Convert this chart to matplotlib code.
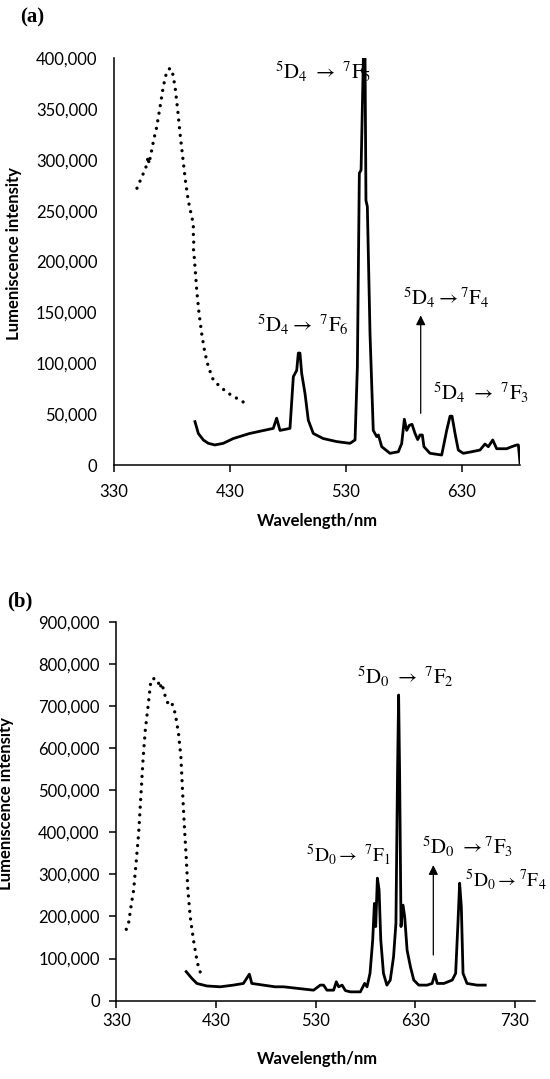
import matplotlib
matplotlib.use("Agg")
import matplotlib.pyplot as plt
from matplotlib.ticker import FuncFormatter

# ---------------- data ----------------
# Panel (a): Tb complex
exc_a_x = [349.8, 353.9, 357.3, 359.5, 360.2, 361.0, 364.5, 366.8, 369.7, 372.5, 375.4, 378.3,
           380.3, 382.6, 384.9, 386.9, 389.2, 391.5, 394.0, 397.0, 398.2, 398.6, 398.3, 398.8,
           398.5, 399.0, 399.8, 401.3, 403.3, 405.6, 408.4, 411.3, 415.6, 421.4, 428.5, 435.8, 445.8]
exc_a_y = [272000, 283000, 291600, 303000, 296000, 301000, 321000, 332000, 352000, 372000, 386500, 390000,
           386500, 372000, 349000, 326000, 303000, 280000, 260000, 244000, 238000, 230000, 224000, 218000,
           212000, 207000, 195000, 172000, 149000, 129000, 110000, 96600, 83500, 77000, 70500, 65600, 59000]

em_a_x = [399.8, 402.7, 407.0, 411.3, 417.0, 424.2, 432.8, 447.0, 467.3, 470.2, 473.1, 481.7,
          484.6, 487.5, 488.9, 490.3, 491.8, 494.7, 497.5, 501.8, 510.4, 522.0, 533.4, 537.8,
          539.8, 541.5, 543.0, 545.0, 546.4, 547.2, 548.4, 550.7, 553.5, 556.4, 557.9, 560.8,
          567.9, 575.1, 578.0, 580.3, 582.3, 584.6, 586.9, 589.5, 591.8, 593.8, 595.8, 597.2,
          602.4, 612.5, 616.8, 619.7, 621.4, 624.0, 626.8, 631.1, 638.3, 645.5, 649.8, 652.7,
          656.5, 659.9, 668.5, 672.8, 677.2, 678.6, 680.0]
em_a_y = [42600, 31000, 24600, 21300, 19700, 21300, 26000, 31000, 36000, 46000, 34000, 36000,
          86800, 93000, 110000, 110000, 90000, 70000, 44000, 31000, 26000, 23000, 21300, 24600,
          96600, 286700, 290000, 402000, 402000, 260000, 254000, 129000, 34000, 28000, 29500, 18000,
          11500, 13000, 21000, 45000, 34000, 39000, 40000, 31000, 25000, 29500, 29500, 18000,
          11500, 9800, 34000, 48000, 48000, 31000, 14700, 11500, 13000, 14700, 20600, 18000,
          24600, 16000, 16000, 18000, 19700, 19700, 2000]

# Panel (b): Eu complex
exc_b_x = [340.0, 342.3, 344.7, 347.4, 350.1, 352.4, 354.8, 356.8, 359.1, 361.8, 364.8, 369.1,
           372.4, 373.5, 375.8, 378.1, 382.4, 385.8, 389.1, 392.4, 394.8, 396.4, 398.1, 400.1,
           401.8, 404.1, 407.4, 410.8, 413.1, 415.8]
exc_b_y = [169500, 184000, 223000, 263000, 334000, 397000, 492000, 572000, 643000, 698000, 762000, 766000,
           754000, 742000, 754000, 730000, 702000, 706000, 682000, 635000, 579000, 500000, 421000, 342000,
           263000, 200000, 144000, 97000, 73000, 61000]

em_b_x = [400.1, 405.8, 410.8, 420.8, 434.2, 447.5, 457.5, 463.5, 465.9, 477.5, 489.3, 497.8,
          527.9, 534.6, 537.9, 541.3, 548.0, 550.7, 553.0, 556.5, 559.8, 564.8, 574.8, 579.1,
          581.5, 584.5, 587.2, 588.9, 590.2, 591.9, 593.6, 595.3, 598.0, 601.4, 604.8, 608.1,
          610.5, 612.1, 613.2, 614.2, 615.6, 617.6, 619.3, 621.7, 625.0, 628.4, 633.4, 641.8,
          646.8, 649.5, 651.9, 658.6, 667.0, 670.4, 672.7, 674.4, 676.1, 677.8, 681.8, 691.8, 700.1]
em_b_y = [69000, 53000, 41000, 35000, 33000, 37000, 41000, 63000, 41000, 37000, 33000, 33000,
          25000, 37000, 37000, 25000, 25000, 45000, 33000, 37000, 24000, 21000, 21000, 41000,
          33000, 65000, 144000, 231000, 176000, 291000, 263000, 144000, 65000, 37000, 49000, 104000,
          184000, 540000, 726000, 540000, 176000, 227000, 199000, 120000, 81000, 49000, 37000, 37000,
          41000, 63000, 41000, 41000, 49000, 65000, 184000, 279000, 223000, 65000, 41000, 37000, 37000]

xticks_a = [330, 430, 530, 630]
yticks_a = [0, 50000, 100000, 150000, 200000, 250000, 300000, 350000, 400000]
xticks_b = [330, 430, 530, 630, 730]
yticks_b = [0, 100000, 200000, 300000, 400000, 500000, 600000, 700000, 800000, 900000]

labels_a = [r'$^{5}\mathrm{D}_{4}\ \rightarrow\ ^{7}\mathrm{F}_{5}$',
            r'$^{5}\mathrm{D}_{4}\rightarrow\ ^{7}\mathrm{F}_{6}$',
            r'$^{5}\mathrm{D}_{4}\rightarrow{}^{7}\mathrm{F}_{4}$',
            r'$^{5}\mathrm{D}_{4}\ \rightarrow\ ^{7}\mathrm{F}_{3}$']
labels_b = [r'$^{5}\mathrm{D}_{0}\ \rightarrow\ ^{7}\mathrm{F}_{2}$',
            r'$^{5}\mathrm{D}_{0}\rightarrow\ ^{7}\mathrm{F}_{1}$',
            r'$^{5}\mathrm{D}_{0}\ \rightarrow{}^{7}\mathrm{F}_{3}$',
            r'$^{5}\mathrm{D}_{0}\rightarrow{}^{7}\mathrm{F}_{4}$']

# ---------------- style ----------------
plt.rcParams['font.family'] = ['Lato', 'DejaVu Sans']
plt.rcParams['mathtext.fontset'] = 'stix'

fig = plt.figure(figsize=(5.5, 10.79), dpi=100)
W, H = 550.0, 1079.0

def axes_px(l, t, r, b):
    return fig.add_axes([l / W, 1 - b / H, (r - l) / W, (b - t) / H])

ax_a = axes_px(114, 58, 520, 465)
ax_b = axes_px(116.3, 621.7, 535, 1000.7)

fmt = FuncFormatter(lambda v, p: f'{v:,.0f}')
dot_style = dict(color='black', lw=2.4, linestyle=(0, (0.01, 2.3)), dash_capstyle='round')
line_style = dict(color='black', lw=2.0, solid_joinstyle='round')

def style_axes(ax, xlim, ylim, xt, yt, ytick_len, ypad, xpad):
    ax.set_xlim(*xlim)
    ax.set_ylim(*ylim)
    ax.set_xticks(xt)
    ax.set_yticks(yt)
    ax.yaxis.set_major_formatter(fmt)
    for s in ('top', 'right'):
        ax.spines[s].set_visible(False)
    for s in ('left', 'bottom'):
        ax.spines[s].set_linewidth(1.1)
    ax.tick_params(axis='x', direction='out', length=5, width=1.1, pad=xpad, labelsize=12)
    ax.tick_params(axis='y', direction='out', length=ytick_len, width=1.1, pad=ypad, labelsize=12)

# ---- panel (a)
ax_a.plot(exc_a_x, exc_a_y, **dot_style)
ax_a.plot(em_a_x, em_a_y, **line_style)
style_axes(ax_a, (330, 680), (0, 400000), xticks_a, yticks_a, 0, 12, 9)
ax_a.set_xlabel('Wavelength/nm', fontsize=12, fontweight='bold')
ax_a.set_ylabel('Lumeniscence intensity', fontsize=12, fontweight='bold')
ax_a.xaxis.set_label_coords(0.5, -48 / 407)
ax_a.yaxis.set_label_coords(-(114 - 22) / 406, 0.52)

tk = dict(fontsize=15, ha='left', va='center')
ax_a.text(468.8, 386000, labels_a[0], **tk)
ax_a.text(453.3, 137600, labels_a[1], **tk)
ax_a.text(579.1, 164000, labels_a[2], **tk)
ax_a.text(605.0, 70800, labels_a[3], **tk)
ax_a.annotate('', xy=(594.4, 147000), xytext=(594.4, 50800),
              arrowprops=dict(arrowstyle='-|>', color='black', lw=0.9,
                              mutation_scale=14, shrinkA=0, shrinkB=0))

fig.text(20 / W, 1 - 17 / H, '(a)', fontsize=15, fontweight='bold',
         family='Liberation Serif', ha='left', va='center')

# ---- panel (b)
ax_b.plot(exc_b_x, exc_b_y, **dot_style)
ax_b.plot(em_b_x, em_b_y, **line_style)
style_axes(ax_b, (330, 750), (0, 900000), xticks_b, yticks_b, 5, 7, 4)
ax_b.set_xlabel('Wavelength/nm', fontsize=12, fontweight='bold')
ax_b.set_ylabel('Lumeniscence intensity', fontsize=12, fontweight='bold')
ax_b.xaxis.set_label_coords((317 - 116.3) / 418.7, -50 / 379)
ax_b.yaxis.set_label_coords(-(116.3 - 14) / 418.7, 0.52)

ax_b.text(571.6, 769000, labels_b[0], **tk)
ax_b.text(520.0, 346000, labels_b[1], fontsize=14, ha='left', va='center')
ax_b.text(636.6, 366000, labels_b[2], **tk)
ax_b.text(679.8, 287000, labels_b[3], fontsize=14, ha='left', va='center')
ax_b.annotate('', xy=(648, 322000), xytext=(648, 108500),
              arrowprops=dict(arrowstyle='-|>', color='black', lw=0.9,
                              mutation_scale=14, shrinkA=0, shrinkB=0))

fig.text(7 / W, 1 - 601.7 / H, '(b)', fontsize=15, fontweight='bold',
         family='Liberation Serif', ha='left', va='center')

fig.savefig('out.png', dpi=100)
